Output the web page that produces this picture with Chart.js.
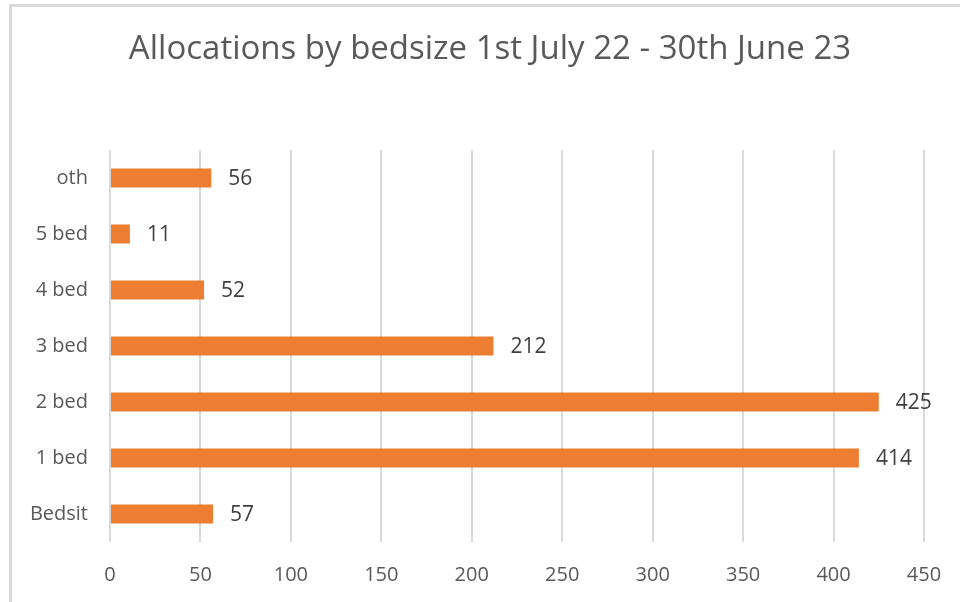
<!DOCTYPE html>
<html>
<head>
<meta charset="utf-8">
<title>Allocations by bedsize</title>
<script src="https://cdn.jsdelivr.net/npm/chart.js@4.4.0/dist/chart.umd.min.js"></script>
<style>
  html, body { margin: 0; padding: 0; background: #fff; }
  #wrap { position: relative; width: 960px; height: 602px; }
</style>
</head>
<body>
<div id="wrap"><canvas id="chart" width="960" height="602"></canvas></div>
<script>
// data
const categories = ["oth", "5 bed", "4 bed", "3 bed", "2 bed", "1 bed", "Bedsit"];
const allocations = [56, 11, 52, 212, 425, 414, 57];
const xTicks = [0, 50, 100, 150, 200, 250, 300, 350, 400, 450];
const chartTitle = "Allocations by bedsize 1st July 22 - 30th June 23";

const FONT = "'Open Sans', Lato, sans-serif";

// light frame on the top and left edge, like the cropped Excel chart border
const framePlugin = {
  id: "frame",
  beforeDraw(chart) {
    const ctx = chart.ctx;
    ctx.save();
    ctx.fillStyle = "#ffffff";
    ctx.fillRect(0, 0, chart.width, chart.height);
    ctx.strokeStyle = "#d9d9d9";
    ctx.lineWidth = 3;
    ctx.beginPath();
    ctx.moveTo(10.5, chart.height);
    ctx.lineTo(10.5, 5.5);
    ctx.lineTo(chart.width, 5.5);
    ctx.stroke();
    ctx.restore();
  },
  // title is centred on the whole frame, not on the padded layout box
  afterDraw(chart) {
    const ctx = chart.ctx;
    ctx.save();
    ctx.font = "33px " + FONT;
    ctx.fillStyle = "#595959";
    ctx.textAlign = "center";
    ctx.textBaseline = "middle";
    ctx.fillText(chartTitle, 490, 50);
    ctx.restore();
  },
};

// value labels to the right of each bar
const valueLabels = {
  id: "valueLabels",
  afterDatasetsDraw(chart) {
    const ctx = chart.ctx;
    const meta = chart.getDatasetMeta(0);
    ctx.save();
    ctx.font = "21px " + FONT;
    ctx.fillStyle = "#404040";
    ctx.textAlign = "left";
    ctx.textBaseline = "middle";
    meta.data.forEach((bar, i) => {
      ctx.fillText(String(allocations[i]), bar.x + 17, bar.y + 1);
    });
    ctx.restore();
  },
};

new Chart(document.getElementById("chart"), {
  type: "bar",
  data: {
    labels: categories,
    datasets: [
      {
        data: allocations,
        backgroundColor: "#ed7d31",
        borderWidth: 0,
        barPercentage: 0.34,
        categoryPercentage: 1,
      },
    ],
  },
  plugins: [framePlugin, valueLabels],
  options: {
    indexAxis: "y",
    responsive: false,
    animation: false,
    devicePixelRatio: 1,
    layout: { padding: { left: 20, right: 36, top: 150, bottom: 10 } },
    plugins: {
      legend: { display: false },
      tooltip: { enabled: false },
      title: { display: false },
    },
    scales: {
      x: {
        min: 0,
        max: 450,
        afterBuildTicks(scale) {
          scale.ticks = xTicks.map((v) => ({ value: v }));
        },
        afterFit(scale) {
          scale.height = 50;
          scale.paddingLeft = 0;
          scale.paddingRight = 0;
        },
        grid: { color: "#d9d9d9", lineWidth: 2, drawTicks: false },
        border: { display: false },
        ticks: {
          color: "#595959",
          padding: 21,
          font: { family: FONT, size: 20 },
        },
      },
      y: {
        afterFit(scale) {
          scale.width = 90;
          scale.paddingTop = 0;
          scale.paddingBottom = 0;
        },
        grid: { display: false, drawTicks: false },
        border: { display: false },
        ticks: {
          color: "#595959",
          padding: 22,
          font: { family: FONT, size: 20 },
        },
      },
    },
  },
});
</script>
</body>
</html>
